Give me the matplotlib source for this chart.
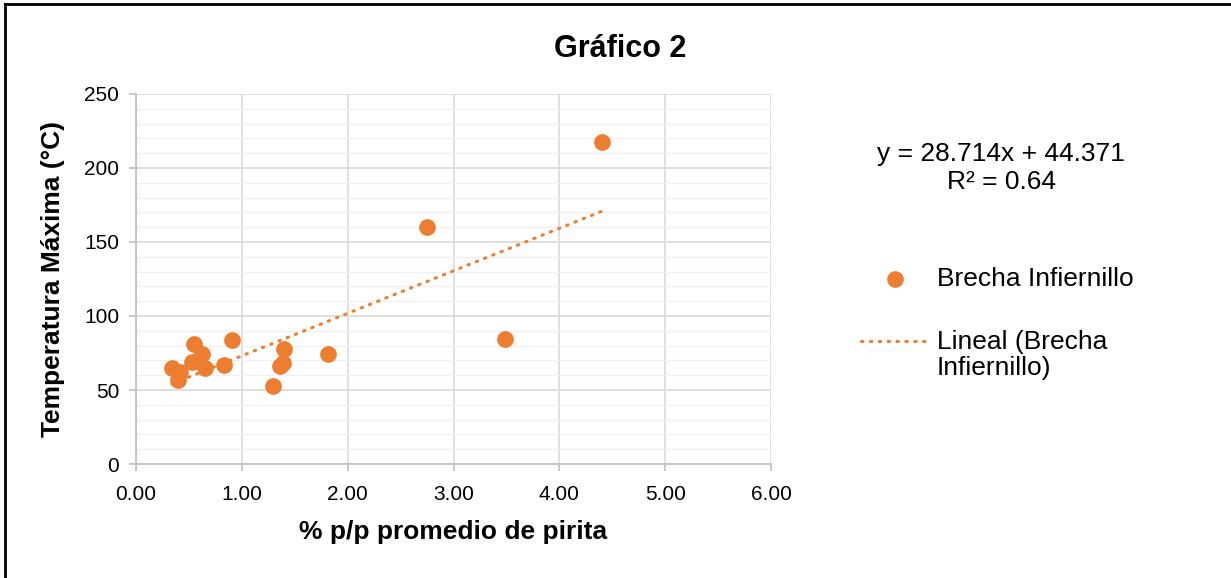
import numpy as np
import matplotlib
matplotlib.use("Agg")
import matplotlib.pyplot as plt
from matplotlib.ticker import MultipleLocator, FormatStrFormatter
from matplotlib.lines import Line2D

# datos
pirita = [0.34, 0.40, 0.42, 0.55, 0.53, 0.62, 0.65, 0.83, 0.91, 1.29, 1.36, 1.39, 1.40, 1.81, 2.75, 3.49, 4.40]
temp_max = [65, 57, 62, 81, 69, 74, 65, 67, 84, 53, 66, 68, 78, 74, 160, 84.5, 217.5]
pendiente = 28.714
intercepto = 44.371
r2 = 0.64

naranja = "#ED7D31"
W, H = 1231, 578
fuente = "Liberation Sans"
punteado = (0, (0.5, 2.4))

fig = plt.figure(figsize=(W / 100, H / 100), dpi=100)
ax = fig.add_axes([136 / W, 1 - 464 / H, (771 - 136) / W, (464 - 94) / H])

ax.scatter(pirita, temp_max, s=145, color=naranja, zorder=3, linewidths=0)

xs = np.array([min(pirita), max(pirita)])
ax.plot(xs, pendiente * xs + intercepto, color=naranja, linewidth=2.2,
        linestyle=punteado, dash_capstyle="round", zorder=2)

ax.set_xlim(0, 6)
ax.set_ylim(0, 250)
ax.xaxis.set_major_locator(MultipleLocator(1))
ax.xaxis.set_major_formatter(FormatStrFormatter("%.2f"))
ax.yaxis.set_major_locator(MultipleLocator(50))
ax.yaxis.set_minor_locator(MultipleLocator(10))

ax.grid(True, which="major", axis="both", color="#D9D9D9", linewidth=1.2, zorder=0)
ax.grid(True, which="minor", axis="y", color="#F0F0F0", linewidth=1.0, zorder=0)
ax.set_axisbelow(True)

for s in ["top", "right"]:
    ax.spines[s].set_visible(False)
for s in ["left", "bottom"]:
    ax.spines[s].set_color("#BFBFBF")
    ax.spines[s].set_linewidth(1.2)
ax.tick_params(which="major", length=5, color="#BFBFBF", width=1.2,
               labelsize=15, labelcolor="black")
ax.tick_params(axis="x", pad=10)
ax.tick_params(axis="y", pad=7)
ax.tick_params(which="minor", length=0)
for lab in ax.get_xticklabels() + ax.get_yticklabels():
    lab.set_family(fuente)

ax.set_xlabel("% p/p promedio de pirita", fontsize=19, fontweight="bold",
              family=fuente, labelpad=12)
ax.set_ylabel("Temperatura Máxima (°C)", fontsize=19, fontweight="bold",
              family=fuente, labelpad=14)

fig.text(620 / W, 1 - 49 / H, "Gráfico 2", ha="center", va="center",
         fontsize=22, fontweight="bold", family=fuente)

fig.text(1001 / W, 1 - 168 / H,
         "y = %.3fx + %.3f\nR² = %.2f" % (pendiente, intercepto, r2),
         ha="center", va="center", fontsize=19, family=fuente, linespacing=1.22)

# leyenda
fig.add_artist(Line2D([895 / W], [1 - 279 / H], marker="o", linestyle="none", color=naranja,
                      markersize=12, markeredgewidth=0, transform=fig.transFigure))
fig.text(937 / W, 1 - 279 / H, "Brecha Infiernillo", ha="left", va="center",
         fontsize=19, family=fuente)
fig.add_artist(Line2D([861 / W, 930 / W], [1 - 341 / H, 1 - 341 / H], color=naranja,
                      linewidth=2.2, linestyle=punteado, dash_capstyle="round",
                      transform=fig.transFigure))
fig.text(937 / W, 1 - 355 / H, "Lineal (Brecha\nInfiernillo)", ha="left", va="center",
         fontsize=19, family=fuente, linespacing=1.08)

# marco exterior (solo lados izquierdo y superior visibles)
fig.add_artist(Line2D([5 / W, 5 / W], [0, 1 - 4 / H], color="black", linewidth=2,
                      transform=fig.transFigure))
fig.add_artist(Line2D([5 / W, 1], [1 - 4 / H, 1 - 4 / H], color="black", linewidth=2,
                      transform=fig.transFigure))

fig.savefig("out.png", dpi=100)
